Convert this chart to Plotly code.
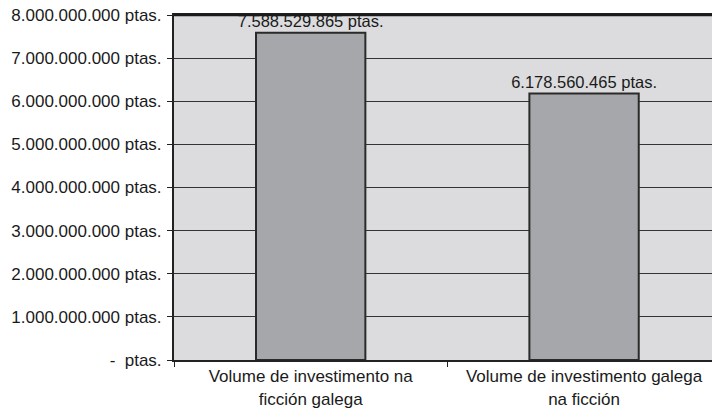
import plotly.graph_objects as go

categories = ["Volume de investimento na<br>ficción galega",
              "Volume de investimento galega<br>na ficción"]
values = [7588529865, 6178560465]
value_labels = ["7.588.529.865 ptas.", "6.178.560.465 ptas."]
tick_vals = [0, 1e9, 2e9, 3e9, 4e9, 5e9, 6e9, 7e9, 8e9]
tick_text = ["-  ptas.", "1.000.000.000 ptas.", "2.000.000.000 ptas.",
             "3.000.000.000 ptas.", "4.000.000.000 ptas.", "5.000.000.000 ptas.",
             "6.000.000.000 ptas.", "7.000.000.000 ptas.", "8.000.000.000 ptas."]

fig = go.Figure()

fig.add_trace(go.Bar(
    x=categories,
    y=values,
    text=value_labels,
    textposition="outside",
    constraintext="none",
    cliponaxis=False,
    textfont=dict(size=16.5, color="#1a1a1a"),
    width=0.4,
    marker=dict(color="#a6a7ab", line=dict(color="#2a2a2a", width=2))
))

fig.update_layout(
    width=712, height=408,
    margin=dict(l=174, r=0, t=15, b=48),
    paper_bgcolor="white",
    plot_bgcolor="#dcdcde",
    font=dict(family="Liberation Sans, Arial", size=17, color="#1a1a1a"),
    showlegend=False,
    xaxis=dict(
        type="category",
        range=[-0.5, 1.468],
        tickson="boundaries",
        ticks="outside", ticklen=5, tickcolor="#222",
        showline=True, mirror=True, linecolor="#222", linewidth=2,
        showgrid=False, automargin=False
    ),
    yaxis=dict(
        range=[0, 8e9],
        tickvals=tick_vals, ticktext=tick_text,
        ticks="outside", ticklen=5, tickcolor="#222",
        ticklabelstandoff=2,
        showline=True, linecolor="#222", linewidth=2,
        showgrid=True, gridcolor="#333333", gridwidth=1,
        zeroline=False, automargin=False
    )
)

# heavy frame line along the top edge of the plot area
fig.add_shape(type="line", xref="paper", yref="paper", x0=0, x1=1, y0=1, y1=1,
              layer="above", line=dict(color="#1a1a1a", width=2.5))

# drop the browser's default body margin so the figure sits at 0,0
fig.write_html("out.html", config={"displayModeBar": False},
               post_script="document.body.style.margin='0';")
